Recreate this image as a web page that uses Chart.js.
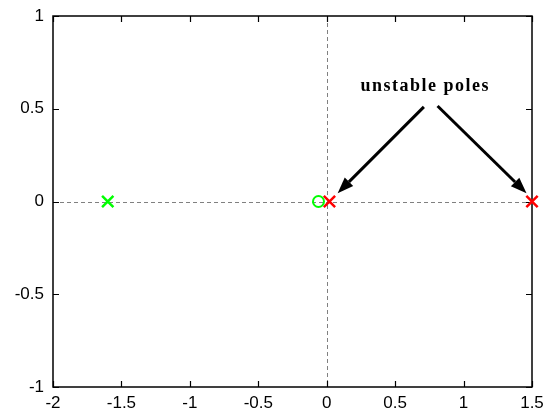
<!DOCTYPE html>
<html>
<head>
<meta charset="utf-8">
<script src="https://cdn.jsdelivr.net/npm/chart.js@4/dist/chart.umd.min.js"></script>
<style>
  html, body { margin: 0; padding: 0; background: #fff; }
  #wrap { width: 546px; height: 414px; }
</style>
</head>
<body>
<div id="wrap"><canvas id="poles"></canvas></div>
<script>
// pole / zero locations (real, imag)
let stablePoles = [{x: -1.6, y: 0}];
let zeros = [{x: -0.06, y: 0}];
let unstablePoles = [{x: 0.02, y: 0}, {x: 1.5, y: 0}];

let xTicks = [-2, -1.5, -1, -0.5, 0, 0.5, 1, 1.5];
let yTicks = [-1, -0.5, 0, 0.5, 1];

// annotation: label position and arrows (tail -> head), in data units
let noteText = 'unstable poles';
let notePos = {x: 0.72, y: 0.62};
let arrows = [
    {from: {x: 0.71, y: 0.51}, to: {x: 0.08, y: 0.045}},
    {from: {x: 0.81, y: 0.515}, to: {x: 1.46, y: 0.045}}
];

let boxPlugin = {
    id: 'matlabBox',
    beforeDatasetsDraw(chart) {
        let ctx = chart.ctx;
        let a = chart.chartArea;
        let xs = chart.scales.x, ys = chart.scales.y;
        ctx.save();
        // dashed axes through origin
        ctx.strokeStyle = '#808080';
        ctx.lineWidth = 1;
        ctx.setLineDash([4, 3]);
        let x0 = Math.round(xs.getPixelForValue(0)) + 0.5;
        let y0 = Math.round(ys.getPixelForValue(0)) + 0.5;
        ctx.beginPath();
        ctx.moveTo(x0, a.top); ctx.lineTo(x0, a.bottom);
        ctx.moveTo(a.left, y0); ctx.lineTo(a.right, y0);
        ctx.stroke();
        ctx.setLineDash([]);
        // box
        ctx.strokeStyle = '#000';
        ctx.lineWidth = 1.5;
        ctx.strokeRect(a.left, a.top, a.right - a.left, a.bottom - a.top);
        // inward ticks
        ctx.lineWidth = 1.2;
        ctx.beginPath();
        xTicks.forEach(v => {
            let px = Math.round(xs.getPixelForValue(v)) + 0.5;
            ctx.moveTo(px, a.bottom); ctx.lineTo(px, a.bottom - 6);
            ctx.moveTo(px, a.top); ctx.lineTo(px, a.top + 6);
        });
        yTicks.forEach(v => {
            let py = Math.round(ys.getPixelForValue(v)) + 0.5;
            ctx.moveTo(a.left, py); ctx.lineTo(a.left + 6, py);
            ctx.moveTo(a.right, py); ctx.lineTo(a.right - 6, py);
        });
        ctx.stroke();
        ctx.restore();
    },
    afterDatasetsDraw(chart) {
        let ctx = chart.ctx;
        let xs = chart.scales.x, ys = chart.scales.y;
        ctx.save();
        ctx.fillStyle = '#000';
        ctx.strokeStyle = '#000';
        ctx.lineWidth = 3;
        arrows.forEach(ar => {
            let x1 = xs.getPixelForValue(ar.from.x), y1 = ys.getPixelForValue(ar.from.y);
            let x2 = xs.getPixelForValue(ar.to.x), y2 = ys.getPixelForValue(ar.to.y);
            let ang = Math.atan2(y2 - y1, x2 - x1);
            let head = 16, half = 6;
            let bx = x2 - head * Math.cos(ang), by = y2 - head * Math.sin(ang);
            ctx.beginPath();
            ctx.moveTo(x1, y1); ctx.lineTo(bx, by);
            ctx.stroke();
            ctx.beginPath();
            ctx.moveTo(x2, y2);
            ctx.lineTo(bx + half * Math.sin(ang), by - half * Math.cos(ang));
            ctx.lineTo(bx - half * Math.sin(ang), by + half * Math.cos(ang));
            ctx.closePath();
            ctx.fill();
        });
        ctx.font = 'bold 18px "Liberation Serif", serif';
        ctx.letterSpacing = '1.5px';
        ctx.textAlign = 'center';
        ctx.textBaseline = 'middle';
        ctx.fillText(noteText, xs.getPixelForValue(notePos.x), ys.getPixelForValue(notePos.y));
        ctx.restore();
    }
};

function chartLoader(){
    let tickFont = {family: '"Liberation Sans", Arial, sans-serif', size: 17};
    let plot = document.getElementById('poles').getContext('2d');
    let poleChart = new Chart(plot, {
    type: 'scatter',
    data: {
        datasets: [{
            label: 'stable poles',
            data: stablePoles,
            pointStyle: 'crossRot',
            pointRadius: 8,
            borderWidth: 2.5,
            borderColor: '#00ff00',
            backgroundColor: '#00ff00',
            clip: false
        }, {
            label: 'zeros',
            data: zeros,
            pointStyle: 'circle',
            pointRadius: 5.5,
            borderWidth: 2,
            borderColor: '#00ff00',
            backgroundColor: 'rgba(0,0,0,0)',
            clip: false
        }, {
            label: 'unstable poles',
            data: unstablePoles,
            pointStyle: 'crossRot',
            pointRadius: 8,
            borderWidth: 2.5,
            borderColor: '#ff0000',
            backgroundColor: '#ff0000',
            clip: false
        }]
    },
    options: {
        responsive: true,
        maintainAspectRatio: false,
        animation: false,
        layout: {padding: {left: 0, top: 16, right: 14, bottom: 0}},
        plugins: {legend: {display: false}, tooltip: {enabled: false}},
        scales: {
            x: {
                type: 'linear', min: -2, max: 1.5,
                grid: {display: false, drawTicks: false},
                border: {display: false},
                afterBuildTicks: s => { s.ticks = xTicks.map(v => ({value: v})); },
                afterFit: s => { s.height = 27; s.paddingLeft = 0; s.paddingRight = 0; },
                ticks: {color: '#000', font: tickFont, padding: 6, maxRotation: 0,
                    callback: v => String(v)}
            },
            y: {
                type: 'linear', min: -1, max: 1,
                grid: {display: false, drawTicks: false},
                border: {display: false},
                afterBuildTicks: s => { s.ticks = yTicks.map(v => ({value: v})); },
                afterFit: s => { s.width = 53; s.paddingTop = 0; s.paddingBottom = 0; },
                ticks: {color: '#000', font: tickFont, padding: 9,
                    callback: v => String(v)}
            }
        }
    },
    plugins: [boxPlugin]
    });
}
window.onload = function(){
    chartLoader();
}
</script>
</body>
</html>
